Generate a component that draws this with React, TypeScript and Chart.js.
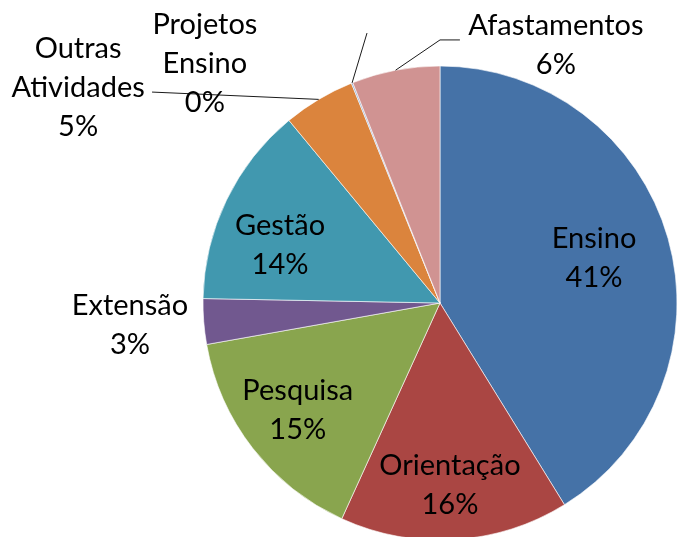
import React, { useEffect, useRef } from "react";
import { Chart, registerables } from "chart.js";

Chart.register(...registerables);

const categories = [
  "Ensino",
  "Orientação",
  "Pesquisa",
  "Extensão",
  "Gestão",
  "Outras Atividades",
  "Projetos Ensino",
  "Afastamentos",
];
const labelLines = [
  ["Ensino"],
  ["Orientação"],
  ["Pesquisa"],
  ["Extensão"],
  ["Gestão"],
  ["Outras", "Atividades"],
  ["Projetos", "Ensino"],
  ["Afastamentos"],
];
const values = [41.2, 15.6, 15.4, 3.1, 13.7, 4.9, 0.1, 6.0];
const colors = [
  "#4572A7",
  "#AA4643",
  "#89A54E",
  "#71588F",
  "#4198AF",
  "#DB843D",
  "#93A9CF",
  "#D09392",
];

// label layout (block centre relative to pie centre, in radius units) and leader lines
const labelLayout = [
  { x: 0.65, y: -0.19 },
  { x: 0.042, y: 0.768 },
  { x: -0.6, y: 0.45 },
  { x: -1.308, y: 0.093 },
  { x: -0.675, y: -0.245 },
  { x: -1.527, y: -0.907, leader: [[-1.215, -0.89]] },
  { x: -0.992, y: -1.008, leader: [[-0.308, -1.139]] },
  { x: 0.489, y: -1.089, leader: [[0, -1.11], [0.084, -1.11]] },
];

const FONT = "29px Lato, 'Noto Sans', sans-serif";
const LINE_H = 39;

const labelPlugin = {
  id: "pieLabels",
  afterDatasetsDraw(chart: any) {
    const meta = chart.getDatasetMeta(0);
    const ds = chart.data.datasets[0].data as number[];
    const total = ds.reduce((a, b) => a + b, 0);
    const ctx = chart.ctx as CanvasRenderingContext2D;
    ctx.save();
    meta.data.forEach((arc: any, i: number) => {
      const { x: cx, y: cy, startAngle, endAngle, outerRadius } = arc.getProps(
        ["x", "y", "startAngle", "endAngle", "outerRadius"],
        true
      );
      const R = outerRadius;
      const lay = labelLayout[i];
      if (lay.leader) {
        const mid = (startAngle + endAngle) / 2;
        ctx.beginPath();
        ctx.strokeStyle = "#1a1a1a";
        ctx.lineWidth = 1;
        ctx.moveTo(cx + Math.cos(mid) * R, cy + Math.sin(mid) * R);
        lay.leader.forEach((p) => ctx.lineTo(cx + p[0] * R, cy + p[1] * R));
        ctx.stroke();
      }
      const pct = Math.round((ds[i] / total) * 100) + "%";
      const lines = [...labelLines[i], pct];
      const bx = cx + lay.x * R;
      const by = cy + lay.y * R;
      ctx.font = FONT;
      ctx.fillStyle = "#000";
      ctx.textAlign = "center";
      ctx.textBaseline = "middle";
      const n = lines.length;
      lines.forEach((t, k) => {
        ctx.fillText(t, bx, by + (k - (n - 1) / 2) * LINE_H);
      });
    });
    ctx.restore();
  },
};

export default function App() {
  const ref = useRef<HTMLCanvasElement>(null);
  useEffect(() => {
    document.body.style.margin = "0";
    const chart = new Chart(ref.current!, {
      type: "pie",
      data: {
        labels: categories,
        datasets: [
          {
            data: values,
            backgroundColor: colors,
            borderColor: "rgba(255,255,255,0.6)",
            borderWidth: 1,
            clip: false as any,
          } as any,
        ],
      },
      options: {
        responsive: false,
        animation: false,
        radius: 237,
        layout: { padding: { left: 202, right: 0, top: 69, bottom: 0 } },
        plugins: {
          legend: { display: false },
          tooltip: { enabled: false },
        },
      } as any,
      plugins: [labelPlugin],
    });
    return () => chart.destroy();
  }, []);
  return (
    <div style={{ width: 678, height: 537, overflow: "hidden", background: "#fff" }}>
      <canvas ref={ref} width={678} height={537} style={{ display: "block" }} />
    </div>
  );
}
